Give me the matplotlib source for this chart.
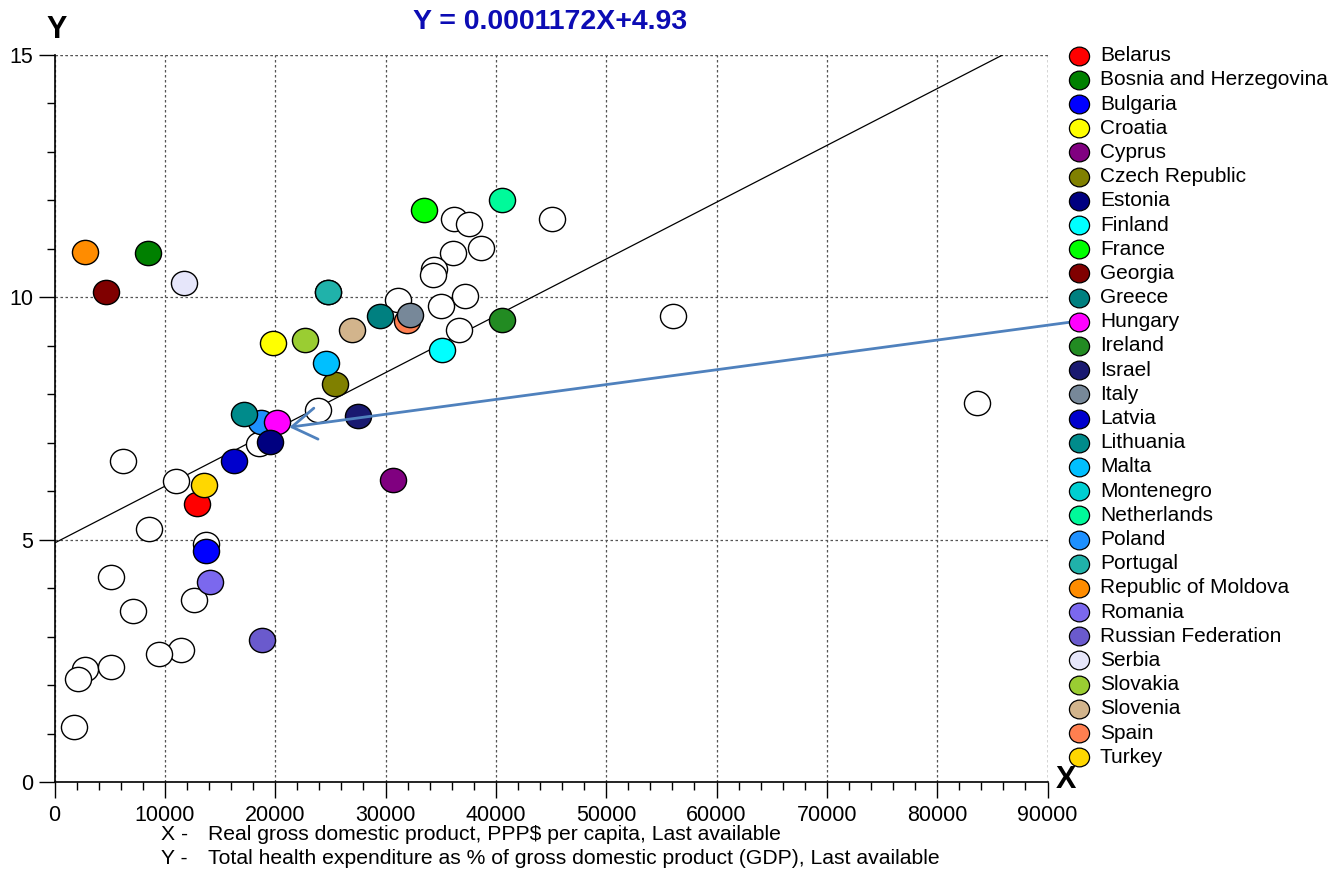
import matplotlib
matplotlib.use("Agg")
import matplotlib.pyplot as plt
from matplotlib.lines import Line2D
from matplotlib.path import Path
from matplotlib.transforms import Affine2D
from matplotlib.ticker import MultipleLocator

plt.rcParams['font.family'] = ['Liberation Sans', 'DejaVu Sans']

# ---- data ----
countries = ["Belarus", "Bosnia and Herzegovina", "Bulgaria", "Croatia", "Cyprus",
             "Czech Republic", "Estonia", "Finland", "France", "Georgia", "Greece",
             "Hungary", "Ireland", "Israel", "Italy", "Latvia", "Lithuania", "Malta",
             "Montenegro", "Netherlands", "Poland", "Portugal", "Republic of Moldova",
             "Romania", "Russian Federation", "Serbia", "Slovakia", "Slovenia", "Spain",
             "Turkey"]
country_x = [12930, 8450, 13740, 19840, 30710, 25430, 19570, 35120, 33520, 4680, 29470,
             20180, 40560, 27510, 32250, 16310, 17150, 24640, 24800, 40530, 18730, 24800,
             2720, 14130, 18780, 11780, 22740, 26970, 31950, 13530]
country_y = [5.73, 10.91, 4.76, 9.06, 6.23, 8.22, 7.02, 8.92, 11.81, 10.12, 9.61,
             7.42, 9.53, 7.55, 9.63, 6.62, 7.59, 8.65, 10.12, 12.01, 7.43, 10.12,
             10.93, 4.12, 2.93, 10.29, 9.11, 9.32, 9.51, 6.12]
country_colors = ["#FF0000", "#008000", "#0000FF", "#FFFF00", "#800080", "#808000",
                  "#000080", "#00FFFF", "#00FF00", "#800000", "#008080", "#FF00FF",
                  "#228B22", "#191970", "#778899", "#0000CD", "#008B8B", "#00BFFF",
                  "#00CED1", "#00FA9A", "#1E90FF", "#20B2AA", "#FF8C00", "#7B68EE",
                  "#6A5ACD", "#E6E6FA", "#9ACD32", "#D2B48C", "#FF7F50", "#FFD700"]
# drawing order (first drawn = bottom)
draw_first = ["Montenegro", "Poland", "Lithuania", "Hungary", "Estonia", "Spain", "Italy"]

other_x = [36180, 37540, 36150, 38690, 34400, 34280, 31110, 35030, 37230, 36630, 23860,
           18570, 6190, 11030, 45060, 56050, 83650, 8550, 13740, 5140, 12620, 7100,
           11420, 9510, 2720, 2150, 5160, 1810]
other_y = [11.62, 11.52, 10.91, 11.02, 10.59, 10.47, 9.94, 9.82, 10.02, 9.32, 7.68,
           6.97, 6.62, 6.21, 11.61, 9.61, 7.82, 5.22, 4.91, 4.23, 3.75, 3.53,
           2.73, 2.64, 2.34, 2.13, 2.37, 1.13]

slope = 0.0001172
intercept = 4.93
title_text = "Y = 0.0001172X+4.93"
x_desc = "Real gross domestic product, PPP$ per capita, Last available"
y_desc = "Total health expenditure as % of gross domestic product (GDP), Last available"
highlight = "Hungary"

# ---- figure ----
W, H = 1336, 872
fig = plt.figure(figsize=(W / 100, H / 100), dpi=100)
ax = fig.add_axes([54.5 / W, 90 / H, (1047.5 - 54.5) / W, (817 - 90) / H])
ax.set_xlim(0, 90000)
ax.set_ylim(0, 15)

ell = Path.unit_circle().transformed(Affine2D().scale(1.0, 0.93))
S = 18.8 ** 2

ax.scatter(other_x, other_y, s=S, marker=ell, facecolor="white", edgecolor="black",
           linewidths=1.0, zorder=3)

order = draw_first + [c for c in countries if c not in draw_first]
for k, name in enumerate(order):
    i = countries.index(name)
    ax.scatter([country_x[i]], [country_y[i]], s=S, marker=ell,
               facecolor=country_colors[i], edgecolor="black", linewidths=1.0,
               zorder=4 + k * 0.01)

# regression line
x_end = (15 - intercept) / slope
ax.plot([0, x_end], [intercept, slope * x_end + intercept], color="black", lw=0.9, zorder=2)

# grid & axes
ax.xaxis.set_major_locator(MultipleLocator(10000))
ax.xaxis.set_minor_locator(MultipleLocator(2000))
ax.yaxis.set_major_locator(MultipleLocator(5))
ax.yaxis.set_minor_locator(MultipleLocator(1))
ax.grid(True, which="major", color="#555555", linestyle=(0, (2, 2)), lw=0.9, zorder=1)
for s in ["top", "right"]:
    ax.spines[s].set_visible(False)
ax.axhline(15, color="#555555", linestyle=(0, (2, 2)), lw=0.9, zorder=1)
ax.axvline(90000, color="#555555", linestyle=(0, (2, 2)), lw=0.9, zorder=1)
ax.spines["left"].set_linewidth(1.2)
ax.spines["bottom"].set_linewidth(1.2)
ax.tick_params(which="major", direction="out", length=11.8, width=1.0, labelsize=15.5)
ax.tick_params(axis="x", which="major", pad=5)
ax.tick_params(axis="y", which="major", pad=3.4)
ax.tick_params(which="minor", direction="out", length=6, width=1.0)
ax.set_axisbelow(True)

# texts
fig.text(550 / W, 1 - 22 / H, title_text, color="#0C0CB4", fontsize=20.5,
         fontweight="bold", ha="center", va="center")
fig.text(57 / W, 1 - 30 / H, "Y", fontsize=22, fontweight="bold", ha="center", va="center")
fig.text(1066 / W, 1 - 780 / H, "X", fontsize=22, fontweight="bold", ha="center",
         va="center")
fig.text(161 / W, 1 - 840 / H, "X -", fontsize=15.2, ha="left", va="baseline")
fig.text(208 / W, 1 - 840 / H, x_desc, fontsize=15.2, ha="left", va="baseline")
fig.text(161 / W, 1 - 864 / H, "Y -", fontsize=15.2, ha="left", va="baseline")
fig.text(208 / W, 1 - 864 / H, y_desc, fontsize=15.2, ha="left", va="baseline")

# legend (manual)
leg_x = 1079
leg_y0 = 55.7
leg_dy = 24.19
hy = None
for i, name in enumerate(countries):
    yy = 1 - (leg_y0 + i * leg_dy) / H
    fig.add_artist(Line2D([leg_x / W], [yy], marker=ell, markersize=14.5,
                          markerfacecolor=country_colors[i], markeredgecolor="black",
                          markeredgewidth=0.9, linestyle="none", transform=fig.transFigure))
    fig.text(1100 / W, yy, name, fontsize=15, ha="left", va="center")
    if name == highlight:
        hy = yy

# arrow from legend entry to highlighted point
hi = countries.index(highlight)
ax.annotate("", xy=(country_x[hi] + 1100, country_y[hi] - 0.1), xycoords="data",
            xytext=((leg_x - 6) / W, hy), textcoords="figure fraction",
            arrowprops=dict(arrowstyle="->,head_length=0.7,head_width=0.45",
                            color="#4F81BD", lw=2, shrinkA=0, shrinkB=0,
                            mutation_scale=25),
            annotation_clip=False, zorder=10)

fig.savefig("out.png", dpi=100)
